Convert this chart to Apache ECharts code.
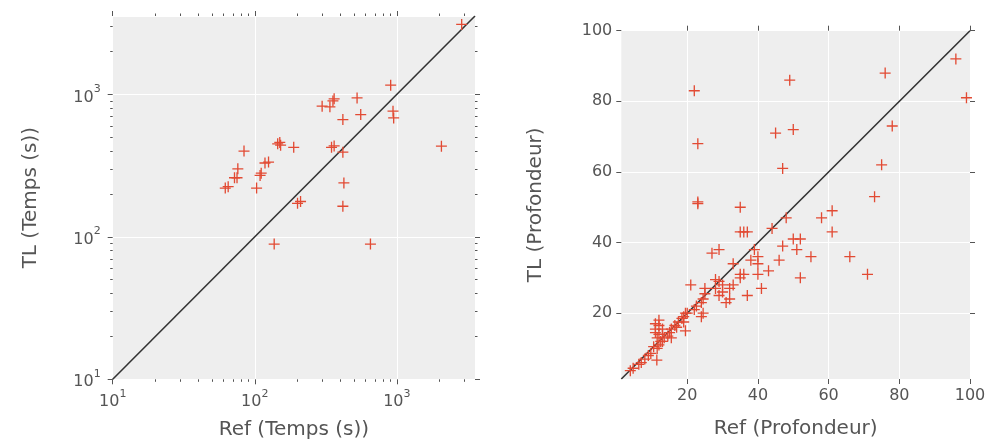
<!DOCTYPE html>
<html>
<head>
<meta charset="utf-8">
<script src="https://cdn.jsdelivr.net/npm/echarts@6/dist/echarts.min.js"></script>
<style>
html,body{margin:0;padding:0;background:#fff;}
#chart{width:992px;height:448px;}
</style>
</head>
<body>
<div id="chart"></div>
<script>
// ---- data ----
const timeRef = [84, 76, 72, 75, 62, 65, 103, 109, 111, 118, 125, 145, 150, 152, 188, 2860, 905, 525, 362, 355, 298, 338, 557, 417, 940, 950, 347, 362, 417, 2060, 424, 200, 210, 417, 137, 652];
const timeTL  = [400, 300, 260, 260, 220, 225, 220, 270, 280, 330, 335, 450, 460, 440, 425, 3100, 1160, 945, 930, 900, 826, 818, 722, 665, 762, 684, 425, 435, 393, 433, 239, 172, 177, 164, 89, 89];

const depthRef = [23, 23, 35, 35, 36, 37, 44, 48, 27, 29, 39, 47, 38, 40, 40, 46, 43, 33, 35, 36, 35, 40, 32, 33, 37, 41, 21, 28, 29, 30, 28, 30, 29, 31, 32, 25, 25, 24.5, 24, 22.6, 24.5, 24, 22, 20, 19.5, 19, 18.5, 17.5, 19, 19.5, 16.5, 15.5, 17, 15, 14.5, 15.5, 12, 11, 12, 11, 13, 11, 12, 13, 11.5, 12.5, 12, 11.5, 13.5, 13, 10.5, 9.7, 9, 8, 7, 6.3, 4.7, 3.9, 11.4, 58, 61, 61, 50, 52, 51, 55, 66, 71, 52, 73, 96, 99, 76, 49, 50, 78, 47, 75, 22, 23, 45];
const depthTL  = [51, 51.5, 50, 43, 43, 43, 44, 47, 37, 38, 38, 39, 35, 34, 36, 35, 32, 34, 31, 31, 30, 31, 27, 28, 25, 27, 28, 29.5, 29, 28, 27, 26, 25, 23, 24, 27, 25.5, 24, 23, 22, 20, 19, 21, 20, 20, 19, 18.5, 17.5, 17.5, 15, 16.5, 15.5, 16, 14.5, 13.5, 13, 18, 17, 16.5, 15.5, 15.5, 14.5, 14, 14, 13, 12, 11, 10, 13, 12, 10.5, 8.6, 8, 7, 6, 5.5, 4.4, 3.7, 6.7, 47, 49, 43, 41, 41, 38, 36, 36, 31, 30, 53, 92, 81, 88, 86, 72, 73, 61, 62, 83, 68, 71];

const timeTicks = [10, 100, 1000];
const depthTicks = [20, 40, 60, 80, 100];

const TIME_MIN = 10, TIME_MAX = 3550;
const DEPTH_MIN = 1.35, DEPTH_MAX = 100;

// ---- styling ----
const TXT = '#555555';
const FONT = 'DejaVu Sans';
const RED = '#E24A33';
const BG = '#EEEEEE';
const PLUS = 'path://M4.4,0H5.6V4.4H10V5.6H5.6V10H4.4V5.6H0V4.4H4.4Z';

const lmin = Math.log10(TIME_MIN), lmax = Math.log10(TIME_MAX);
const majorLog = timeTicks.map(v => Math.log10(v));
const minorLog = [];
timeTicks.forEach(d => { for (let k = 2; k <= 9; k++) { const v = d * k; if (v <= TIME_MAX) minorLog.push(Math.log10(v)); } });

function powLabel(v) {
  const e = Math.round(Math.log10(v));
  return '{b|10}{s|' + e + '}';
}
const powRich = {
  b: { fontSize: 16, color: TXT, fontFamily: FONT, lineHeight: 22, verticalAlign: 'bottom' },
  s: { fontSize: 11, color: TXT, fontFamily: FONT, lineHeight: 12, verticalAlign: 'top' }
};
const nameStyle = { fontSize: 20, color: TXT, fontFamily: FONT };

function tickOnly(gridIndex, position, min, max, values, len) {
  return {
    type: 'value', gridIndex, position, min, max,
    axisLine: { show: false },
    axisTick: { show: true, inside: false, length: len, customValues: values, lineStyle: { color: TXT, width: 1 } },
    axisLabel: { show: false },
    splitLine: { show: false }
  };
}

const xAxes = [
  {
    type: 'log', gridIndex: 0, min: TIME_MIN, max: TIME_MAX, position: 'bottom',
    name: 'Ref (Temps (s))', nameLocation: 'middle', nameGap: 40, nameTextStyle: nameStyle,
    axisLine: { show: false }, axisTick: { show: false },
    axisLabel: { formatter: powLabel, rich: powRich, margin: 9, showMaxLabel: false },
    splitLine: { show: true, lineStyle: { color: '#ffffff', width: 1 } }
  },
  tickOnly(0, 'bottom', lmin, lmax, majorLog, 5),
  tickOnly(0, 'bottom', lmin, lmax, minorLog, 2.5),
  tickOnly(0, 'top', lmin, lmax, majorLog, 5),
  tickOnly(0, 'top', lmin, lmax, minorLog, 2.5),
  {
    type: 'value', gridIndex: 1, min: DEPTH_MIN, max: DEPTH_MAX, position: 'bottom',
    name: 'Ref (Profondeur)', nameLocation: 'middle', nameGap: 40, nameTextStyle: nameStyle,
    axisLine: { show: false },
    axisTick: { show: true, length: 5, customValues: depthTicks, lineStyle: { color: TXT } },
    axisLabel: { customValues: depthTicks, fontSize: 16, color: TXT, fontFamily: FONT, margin: 9 },
    splitLine: { show: true, lineStyle: { color: '#ffffff', width: 1 } }
  },
  tickOnly(1, 'top', DEPTH_MIN, DEPTH_MAX, depthTicks, 5)
];

const yAxes = [
  {
    type: 'log', gridIndex: 0, min: TIME_MIN, max: TIME_MAX, position: 'left',
    name: 'TL (Temps (s))', nameLocation: 'middle', nameGap: 72, nameTextStyle: nameStyle,
    axisLine: { show: false }, axisTick: { show: false },
    axisLabel: { formatter: powLabel, rich: powRich, margin: 12, showMaxLabel: false },
    splitLine: { show: true, lineStyle: { color: '#ffffff', width: 1 } }
  },
  tickOnly(0, 'left', lmin, lmax, majorLog, 5),
  tickOnly(0, 'left', lmin, lmax, minorLog, 2.5),
  tickOnly(0, 'right', lmin, lmax, majorLog, 5),
  tickOnly(0, 'right', lmin, lmax, minorLog, 2.5),
  {
    type: 'value', gridIndex: 1, min: DEPTH_MIN, max: DEPTH_MAX, position: 'left',
    name: 'TL (Profondeur)', nameLocation: 'middle', nameGap: 76, nameTextStyle: nameStyle,
    axisLine: { show: false },
    axisTick: { show: true, length: 5, customValues: depthTicks, lineStyle: { color: TXT } },
    axisLabel: { customValues: depthTicks, fontSize: 16, color: TXT, fontFamily: FONT, margin: 9 },
    splitLine: { show: true, lineStyle: { color: '#ffffff', width: 1 } }
  },
  tickOnly(1, 'right', DEPTH_MIN, DEPTH_MAX, depthTicks, 5)
];

const chart = echarts.init(document.getElementById('chart'), null, { renderer: 'canvas' });
chart.setOption({
  animation: false,
  backgroundColor: '#ffffff',
  textStyle: { fontFamily: FONT },
  grid: [
    { left: 112.7, top: 16, width: 362.3, height: 363.3, show: true, backgroundColor: BG, borderWidth: 0 },
    { left: 621.3, top: 30.7, width: 348.7, height: 348.3, show: true, backgroundColor: BG, borderWidth: 0 }
  ],
  xAxis: xAxes,
  yAxis: yAxes,
  series: [
    {
      type: 'line', xAxisIndex: 0, yAxisIndex: 0, symbol: 'none', silent: true,
      data: [[TIME_MIN, TIME_MIN], [TIME_MAX, TIME_MAX]],
      lineStyle: { color: '#333333', width: 1.6 }, z: 2
    },
    {
      type: 'scatter', xAxisIndex: 0, yAxisIndex: 0, symbol: PLUS, symbolSize: 11,
      data: timeRef.map((v, i) => [v, timeTL[i]]),
      itemStyle: { color: RED, opacity: 1 }, z: 3
    },
    {
      type: 'line', xAxisIndex: 5, yAxisIndex: 5, symbol: 'none', silent: true,
      data: [[DEPTH_MIN, DEPTH_MIN], [DEPTH_MAX, DEPTH_MAX]],
      lineStyle: { color: '#333333', width: 1.6 }, z: 2
    },
    {
      type: 'scatter', xAxisIndex: 5, yAxisIndex: 5, symbol: PLUS, symbolSize: 11,
      data: depthRef.map((v, i) => [v, depthTL[i]]),
      itemStyle: { color: RED, opacity: 1 }, z: 3
    }
  ]
});
</script>
</body>
</html>
